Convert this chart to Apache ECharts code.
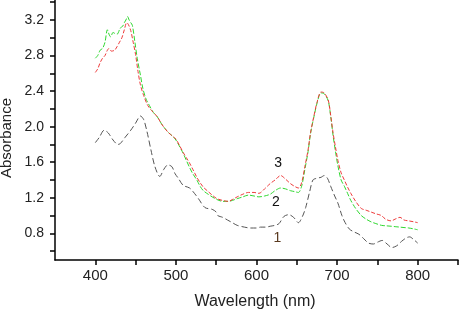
<!DOCTYPE html>
<html>
<head>
<meta charset="utf-8">
<script src="https://cdn.jsdelivr.net/npm/echarts@6/dist/echarts.min.js"></script>
<style>
  html, body { margin: 0; padding: 0; background: #fff; }
  #chart { width: 461px; height: 318px; }
</style>
</head>
<body>
<div id="chart"></div>
<script>
// curve 1 (black)
const wl1 = [400, 405, 411, 416, 422, 428, 431, 437, 444, 450, 456, 460, 464, 469, 474, 480, 485, 490, 495, 499,
  503, 509, 517, 523, 528, 536, 545, 550, 552, 558, 564, 570, 576, 585, 592, 600, 605, 612, 617, 623,
  628, 634, 640, 646, 652, 657, 661, 666, 670, 675, 680, 684, 688, 692, 697, 701, 706, 710, 715, 720,
  727, 733, 739, 745, 750, 756, 762, 768, 774, 780, 786, 790, 795, 800];
const abs1 = [1.82, 1.88, 1.96, 1.93, 1.85, 1.80, 1.81, 1.88, 1.96, 2.04, 2.12, 2.08, 1.95, 1.74, 1.55, 1.44, 1.52, 1.57, 1.55, 1.47,
  1.42, 1.34, 1.31, 1.25, 1.19, 1.09, 1.07, 1.04, 1.00, 0.98, 0.95, 0.92, 0.89, 0.87, 0.86, 0.86, 0.87, 0.87, 0.88, 0.89,
  0.91, 0.99, 1.01, 0.98, 0.92, 0.99, 1.09, 1.27, 1.40, 1.42, 1.43, 1.45, 1.42, 1.33, 1.22, 1.14, 1.00, 0.92, 0.85, 0.82,
  0.79, 0.74, 0.69, 0.68, 0.70, 0.72, 0.68, 0.64, 0.66, 0.71, 0.75, 0.76, 0.73, 0.69];

// curve 2 (green)
const wl2 = [400, 403, 406, 409, 412, 415, 417, 419, 422, 424, 427, 431, 434, 436, 438, 440, 442, 444, 446, 449,
  452, 456, 459, 463, 467, 472, 477, 483, 490, 495, 500, 505, 509, 513, 517, 521, 526, 530, 534, 540,
  545, 551, 558, 565, 570, 576, 583, 590, 597, 603, 610, 617, 623, 630, 636, 642, 647, 652, 656, 660,
  664, 667, 671, 675, 680, 684, 689, 692, 695, 698, 701, 705, 709, 713, 717, 723, 730, 736, 742, 748,
  755, 760, 767, 772, 778, 783, 789, 795, 800];
const abs2 = [2.77, 2.80, 2.86, 2.88, 2.95, 3.09, 3.04, 3.01, 3.06, 3.05, 3.04, 3.11, 3.13, 3.17, 3.20, 3.24, 3.20, 3.17, 3.14, 2.96,
  2.77, 2.58, 2.43, 2.31, 2.24, 2.16, 2.11, 2.02, 1.94, 1.90, 1.85, 1.77, 1.70, 1.62, 1.54, 1.47, 1.40, 1.33, 1.28, 1.24,
  1.21, 1.18, 1.16, 1.16, 1.17, 1.19, 1.21, 1.23, 1.22, 1.21, 1.22, 1.24, 1.28, 1.31, 1.30, 1.28, 1.27, 1.26, 1.33, 1.52,
  1.72, 1.92, 2.10, 2.26, 2.38, 2.37, 2.29, 2.12, 1.90, 1.72, 1.56, 1.40, 1.33, 1.25, 1.17, 1.08, 1.00, 0.96, 0.93, 0.91,
  0.89, 0.885, 0.88, 0.875, 0.87, 0.865, 0.86, 0.85, 0.84];

// curve 3 (red)
const wl3 = [400, 403, 406, 409, 412, 415, 417, 420, 424, 427, 430, 433, 436, 439, 441, 444, 447, 450, 453, 456,
  460, 465, 470, 477, 483, 490, 495, 500, 505, 509, 513, 517, 521, 526, 530, 534, 540, 545, 551, 558,
  565, 570, 576, 583, 590, 597, 603, 610, 617, 623, 630, 636, 642, 647, 652, 656, 660, 664, 667, 671,
  675, 680, 684, 689, 692, 695, 698, 701, 705, 709, 713, 717, 723, 730, 736, 742, 748, 755, 760, 767,
  772, 778, 783, 789, 795, 800];
const abs3 = [2.61, 2.65, 2.72, 2.77, 2.80, 2.86, 2.88, 2.85, 2.86, 2.90, 2.95, 3.00, 3.09, 3.17, 3.15, 3.08, 2.95, 2.81, 2.62, 2.47,
  2.35, 2.24, 2.18, 2.11, 2.02, 1.94, 1.90, 1.86, 1.78, 1.71, 1.65, 1.59, 1.52, 1.43, 1.37, 1.32, 1.27, 1.23, 1.19, 1.17,
  1.16, 1.18, 1.21, 1.24, 1.26, 1.26, 1.25, 1.30, 1.36, 1.40, 1.45, 1.41, 1.36, 1.33, 1.31, 1.37, 1.55, 1.74, 1.93, 2.11,
  2.27, 2.39, 2.38, 2.30, 2.13, 1.93, 1.77, 1.62, 1.48, 1.40, 1.32, 1.25, 1.16, 1.08, 1.06, 1.04, 1.02, 1.00, 0.96, 0.94,
  0.96, 0.98, 0.95, 0.94, 0.93, 0.92];

const xLabels = [400, 500, 600, 700, 800];
const xTicks = [400, 450, 500, 550, 600, 650, 700, 750, 800, 850];
const yLabels = [0.8, 1.2, 1.6, 2.0, 2.4, 2.8, 3.2];
const yTicks = [0.6, 0.8, 1.0, 1.2, 1.4, 1.6, 1.8, 2.0, 2.2, 2.4, 2.6, 2.8, 3.0, 3.2, 3.4];

// curve number labels: [wavelength, absorbance, text]
const curveTags = [[627, 1.59, '3'], [624, 1.15, '2'], [626, 0.745, '1']];

const pairs = (xs, ys) => xs.map((x, i) => [x, ys[i]]);
const font = 'Arial, "Liberation Sans", sans-serif';

const tagPoint = (id, color) => ({
  symbol: 'circle',
  symbolSize: 0,
  label: { show: true, position: 'inside', color: color, fontSize: 14, fontFamily: font, formatter: (p) => p.name },
  data: curveTags.filter((t) => t[2] === id).map((t) => ({ name: t[2], coord: [t[0], t[1]] }))
});

const chart = echarts.init(document.getElementById('chart'));
chart.setOption({
  animation: false,
  backgroundColor: '#fff',
  grid: { left: 55, right: 3, top: 0, bottom: 58 },
  xAxis: {
    type: 'value',
    min: 350,
    max: 850,
    axisLine: { show: true, lineStyle: { color: '#000', width: 1.5 } },
    axisTick: { show: true, inside: false, length: 5, customValues: xTicks, lineStyle: { color: '#000', width: 1.5 } },
    axisLabel: { customValues: xLabels, color: '#222', fontSize: 15, fontFamily: font, margin: 8 },
    splitLine: { show: false }
  },
  yAxis: {
    type: 'value',
    min: 0.5,
    max: 3.425,
    axisLine: { show: true, lineStyle: { color: '#000', width: 1.5 } },
    axisTick: { show: true, inside: false, length: 5, customValues: yTicks, lineStyle: { color: '#000', width: 1.5 } },
    axisLabel: {
      customValues: yLabels,
      color: '#222',
      fontSize: 14,
      fontFamily: font,
      margin: 11,
      formatter: (v) => v.toFixed(1)
    },
    splitLine: { show: false }
  },
  graphic: [
    {
      type: 'text',
      x: 7,
      y: 138,
      rotation: Math.PI / 2,
      style: { text: 'Absorbance', fill: '#222', font: '15px ' + font, align: 'center', verticalAlign: 'middle' }
    },
    {
      type: 'text',
      x: 255,
      y: 302,
      style: { text: 'Wavelength (nm)', fill: '#222', font: '16px ' + font, align: 'center', verticalAlign: 'middle' }
    }
  ],
  series: [
    {
      name: '1',
      type: 'line',
      showSymbol: false,
      smooth: 0.3,
      data: pairs(wl1, abs1),
      lineStyle: { color: '#555', width: 1, type: [6, 3] },
      markPoint: tagPoint('1', '#5a3a20')
    },
    {
      name: '2',
      type: 'line',
      showSymbol: false,
      smooth: 0.3,
      data: pairs(wl2, abs2),
      lineStyle: { color: '#2fd82f', width: 1, type: [5, 2] },
      markPoint: tagPoint('2', '#111')
    },
    {
      name: '3',
      type: 'line',
      showSymbol: false,
      smooth: 0.3,
      data: pairs(wl3, abs3),
      lineStyle: { color: '#ee3b3b', width: 1, type: [4, 2] },
      markPoint: tagPoint('3', '#111')
    }
  ]
});
</script>
</body>
</html>
